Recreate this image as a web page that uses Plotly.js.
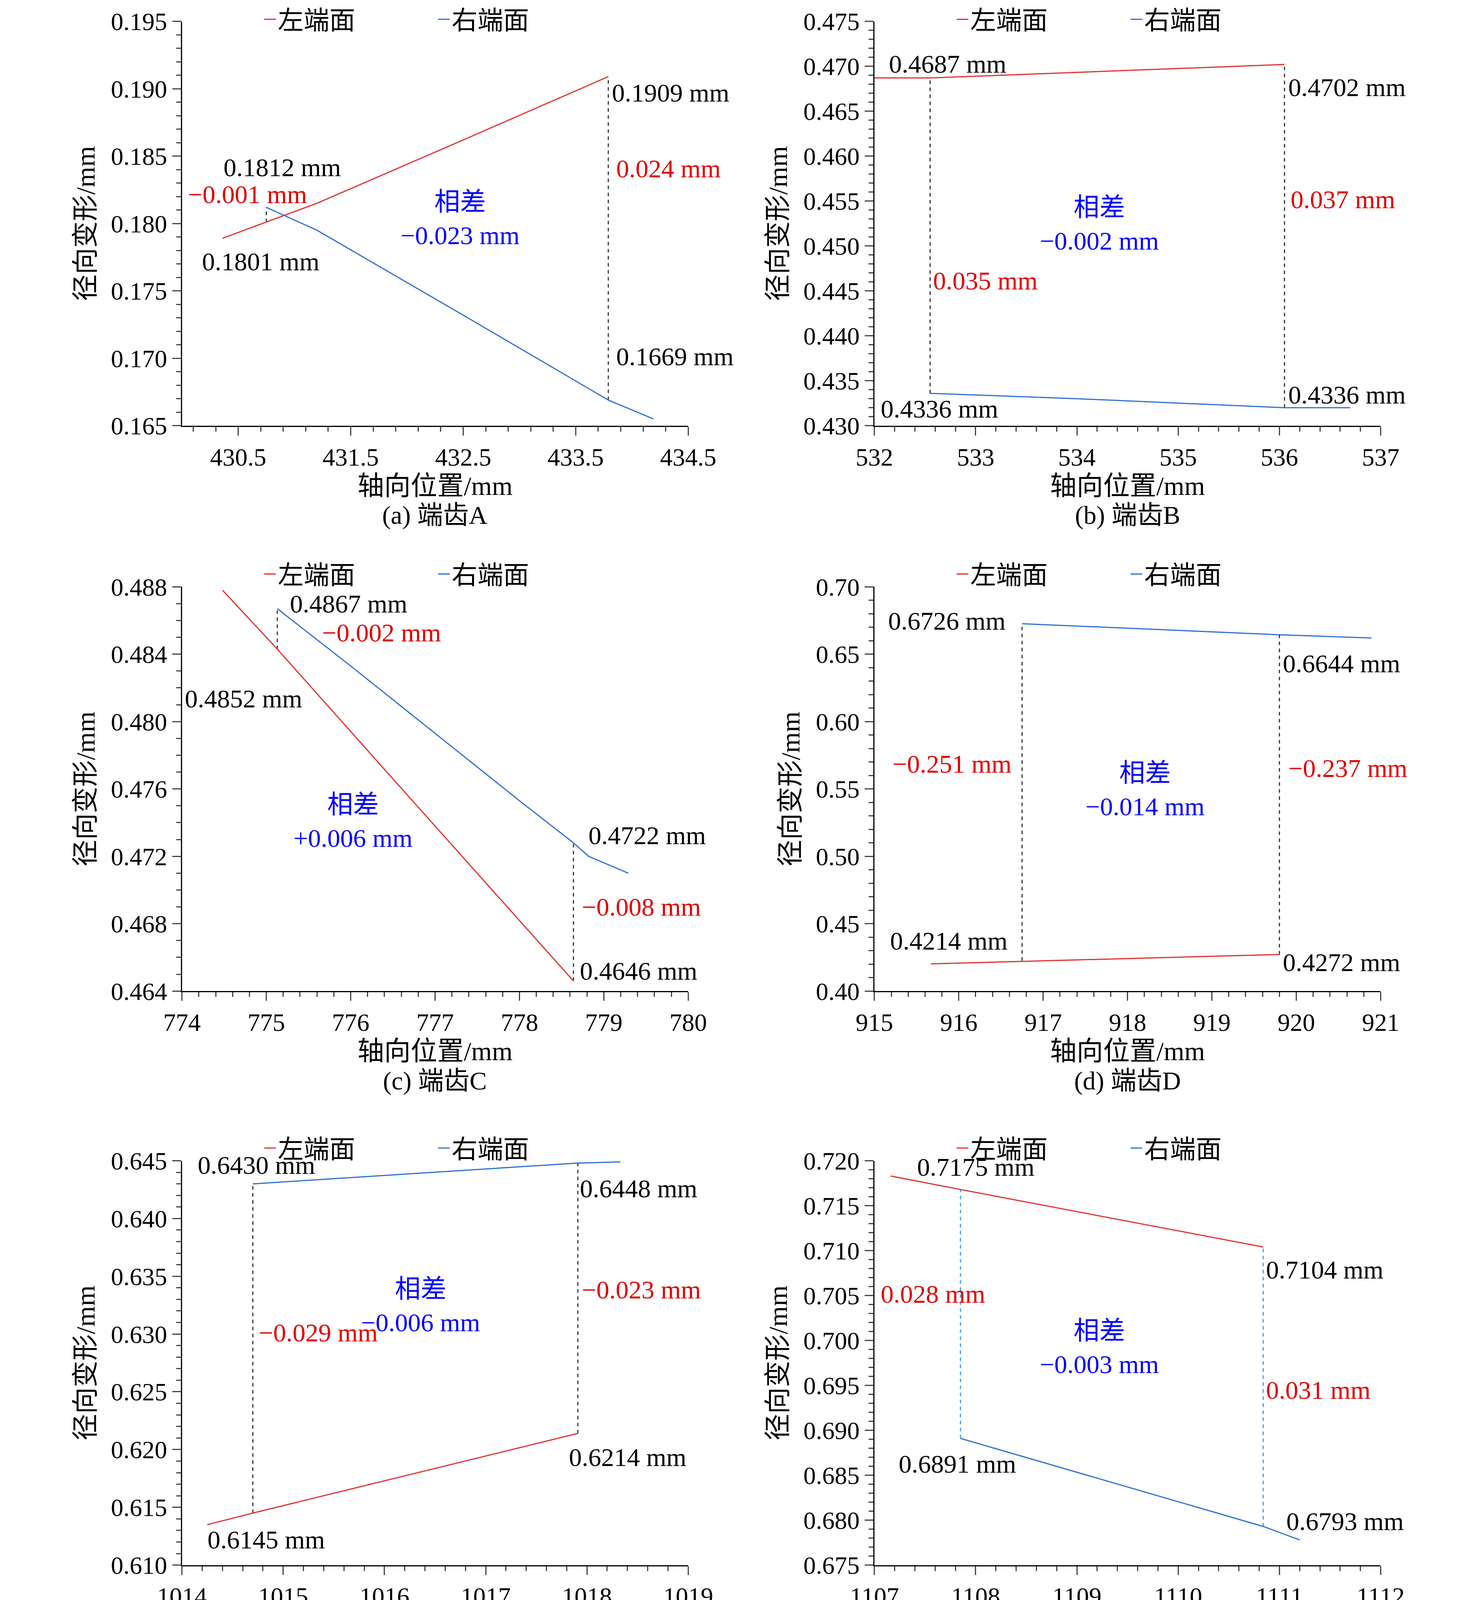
<!DOCTYPE html>
<html><head><meta charset="utf-8">
<script src="https://cdn.plot.ly/plotly-3.0.1.min.js"></script>
<style>body{margin:0;background:#fff;overflow:hidden}</style></head>
<body><div id="chart" style="width:3780px;height:4277px"></div>
<script>
// ---- data ----
const aLeftX=[430.36,430.75,431.2,432.5,433.79], aLeftY=[0.1789,0.1801,0.1815,0.1862,0.1909];
const aRightX=[430.75,431.2,432.5,433.5,433.79,434.19], aRightY=[0.1812,0.1795,0.1732,0.1683,0.1669,0.1655];
const aDash=[[430.75,0.1801,0.1812],[433.79,0.1669,0.1909]];
const bLeftX=[532.0,532.55,536.05], bLeftY=[0.4687,0.4687,0.4702];
const bRightX=[532.55,534,536.05,536.7], bRightY=[0.4336,0.4330,0.4320,0.4320];
const bDash=[[532.55,0.4336,0.4687],[536.05,0.4320,0.4702]];
const cLeftX=[774.48,775.13,776.5,777.5,778.64], cLeftY=[0.4878,0.4843,0.4766,0.4710,0.4646];
const cRightX=[775.13,776,777,778,778.64,778.82,779.29], cRightY=[0.4867,0.4833,0.4793,0.4753,0.4728,0.4720,0.4710];
const cDash=[[775.13,0.4843,0.4867],[778.64,0.4646,0.4728]];
const dLeftX=[915.67,919.8], dLeftY=[0.4202,0.4272];
const dRightX=[916.75,919.8,920.89], dRightY=[0.6726,0.6644,0.662];
const dDash=[[916.75,0.4225,0.6726],[919.8,0.4272,0.6644]];
const eLeftX=[1014.25,1014.7,1017.91], eLeftY=[0.6135,0.6145,0.6214];
const eRightX=[1014.7,1017.91,1018.33], eRightY=[0.6430,0.6448,0.6449];
const eDash=[[1014.7,0.6145,0.6430],[1017.91,0.6214,0.6448]];
const fLeftX=[1107.16,1107.85,1110.84], fLeftY=[0.7183,0.7168,0.7104];
const fRightX=[1107.85,1110.84,1111.2], fRightY=[0.6891,0.6793,0.6778];
const fDash=[[1107.85,0.6891,0.7168],[1110.84,0.6793,0.7104]];
const captions=["(a) 端齿A","(b) 端齿B","(c) 端齿C","(d) 端齿D","(e) 端齿E","(f) 端齿F"];
const legendNames=["左端面","右端面"];

const FONT="Liberation Serif, 'Noto Sans CJK SC', serif";
const W=1380,H=1566;
const RED="#e00000",BLUE="#0000ff";
const panels=[
 {lx:aLeftX,ly:aLeftY,rx:aRightX,ry:aRightY,dash:aDash,dc:"#333",xr:[430,434.5],t0:430.5,dt:1,yr:[0.165,0.195],ydt:0.005,yf:".3f",px:[170,643],py:[20,399],
  ann:[[208,157,"0.1812 mm","k"],[175,182,"−0.001 mm","r"],[188,245,"0.1801 mm","k"],[430,205,"相差<br>−0.023 mm","b"],[571,87,"0.1909 mm","k"],[575,158,"0.024 mm","r"],[575,334,"0.1669 mm","k"]]},
 {lx:bLeftX,ly:bLeftY,rx:bRightX,ry:bRightY,dash:bDash,dc:"#333",xr:[532,537],t0:532,dt:1,yr:[0.430,0.475],ydt:0.005,yf:".3f",px:[817,1290],py:[20,399],
  ann:[[830,60,"0.4687 mm","k"],[1203,82,"0.4702 mm","k"],[1205,187,"0.037 mm","r"],[1027,210,"相差<br>−0.002 mm","b"],[871,263,"0.035 mm","r"],[822,383,"0.4336 mm","k"],[1203,370,"0.4336 mm","k"]]},
 {lx:cLeftX,ly:cLeftY,rx:cRightX,ry:cRightY,dash:cDash,dc:"#333",xr:[774,780],t0:774,dt:1,yr:[0.464,0.488],ydt:0.004,yf:".3f",px:[170,643],py:[550,929],
  ann:[[270,566,"0.4867 mm","k"],[300,593,"−0.002 mm","r"],[172,655,"0.4852 mm","k"],[330,770,"相差<br>+0.006 mm","b"],[549,783,"0.4722 mm","k"],[543,850,"−0.008 mm","r"],[541,910,"0.4646 mm","k"]]},
 {lx:dLeftX,ly:dLeftY,rx:dRightX,ry:dRightY,dash:dDash,dc:"#333",xr:[915,921],t0:915,dt:1,yr:[0.40,0.70],ydt:0.05,yf:".2f",px:[817,1290],py:[550,929],
  ann:[[829,582,"0.6726 mm","k"],[1198,622,"0.6644 mm","k"],[833,716,"−0.251 mm","r"],[1203,720,"−0.237 mm","r"],[1070,740,"相差<br>−0.014 mm","b"],[831,882,"0.4214 mm","k"],[1198,902,"0.4272 mm","k"]]},
 {lx:eLeftX,ly:eLeftY,rx:eRightX,ry:eRightY,dash:eDash,dc:"#333",xr:[1014,1019],t0:1014,dt:1,yr:[0.610,0.645],ydt:0.005,yf:".3f",px:[170,643],py:[1088,1467],
  ann:[[184,1092,"0.6430 mm","k"],[541,1114,"0.6448 mm","k"],[543,1209,"−0.023 mm","r"],[393,1224,"相差<br>−0.006 mm","b"],[241,1249,"−0.029 mm","r"],[531,1366,"0.6214 mm","k"],[193,1443,"0.6145 mm","k"]]},
 {lx:fLeftX,ly:fLeftY,rx:fRightX,ry:fRightY,dash:fDash,dc:"#3aa0e0",xr:[1107,1112],t0:1107,dt:1,yr:[0.675,0.720],ydt:0.005,yf:".3f",px:[817,1290],py:[1088,1467],
  ann:[[856,1094,"0.7175 mm","k"],[1182,1190,"0.7104 mm","k"],[822,1213,"0.028 mm","r"],[1027,1263,"相差<br>−0.003 mm","b"],[1182,1303,"0.031 mm","r"],[839,1372,"0.6891 mm","k"],[1201,1426,"0.6793 mm","k"]]}
];
const traces=[],layout={paper_bgcolor:"#fff",plot_bgcolor:"#fff",margin:{l:0,r:0,t:0,b:0,autoexpand:false},
  font:{family:FONT,size:66,color:"#000"},annotations:[],showlegend:true};
panels.forEach((p,i)=>{
  const n=i+1,xa="x"+(n>1?n:""),ya="y"+(n>1?n:""),lg="legend"+(n>1?n:"");
  p.dash.forEach(d=>traces.push({x:[d[0],d[0]],y:[d[1],d[2]],xaxis:xa,yaxis:ya,mode:"lines",line:{color:p.dc,width:3,dash:"dash"},showlegend:false,hoverinfo:"skip"}));
  traces.push({x:p.lx,y:p.ly,xaxis:xa,yaxis:ya,mode:"lines",name:legendNames[0],line:{color:"#e03030",width:3},legend:lg});
  traces.push({x:p.rx,y:p.ry,xaxis:xa,yaxis:ya,mode:"lines",name:legendNames[1],line:{color:"#2f6fd0",width:3},legend:lg});
  const axc={showline:true,linecolor:"#000",linewidth:3,ticks:"outside",ticklen:22,tickwidth:3,showgrid:false,zeroline:false,automargin:false,
    tickfont:{family:FONT,size:64},minor:{ticks:"outside",ticklen:12,tickwidth:3}};
  layout["xaxis"+(n>1?n:"")]=Object.assign({},axc,{anchor:ya,domain:[p.px[0]/W,p.px[1]/W],range:p.xr,tick0:p.t0,dtick:p.dt,
    title:{text:"轴向位置/mm",font:{family:FONT,size:68},standoff:10}});
  layout["yaxis"+(n>1?n:"")]=Object.assign({},axc,{anchor:xa,domain:[1-p.py[1]/H,1-p.py[0]/H],range:p.yr,dtick:p.ydt,tickformat:p.yf,
    title:{text:"径向变形/mm",font:{family:FONT,size:68},standoff:20}});
  layout[lg]={orientation:"h",x:(p.px[0]+75)/W,y:Math.min(1,1-(p.py[0]-30)/H),xanchor:"left",yanchor:"top",bgcolor:"rgba(0,0,0,0)",
    font:{family:FONT,size:66},entrywidth:400,entrywidthmode:"pixels"};
  p.ann.forEach(a=>layout.annotations.push({xref:"paper",yref:"paper",x:a[0]/W,y:1-a[1]/H,text:a[2],showarrow:false,
    xanchor:a[3]==="b"?"center":"left",yanchor:"middle",font:{family:FONT,size:66,color:a[3]==="r"?RED:a[3]==="b"?BLUE:"#000"}}));
  layout.annotations.push({xref:"paper",yref:"paper",x:(p.px[0]+p.px[1])/2/W,y:1-(p.py[1]+84)/H,text:captions[i],showarrow:false,
    xanchor:"center",yanchor:"middle",font:{family:FONT,size:66}});
});
Plotly.newPlot("chart",traces,layout,{staticPlot:true});
</script></body></html>
